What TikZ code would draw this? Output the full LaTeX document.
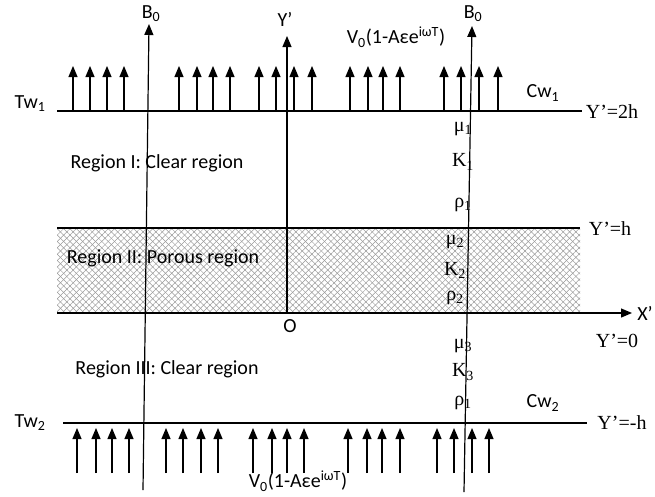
\documentclass[tikz,border=0pt]{standalone}
\usepackage{fontspec}
\setmainfont{Carlito}
\newfontfamily\serifgr{Liberation Serif}
\usetikzlibrary{arrows.meta,patterns.meta}
\begin{document}
\begin{tikzpicture}[x=1pt,y=-1pt,
  lbl/.style={font=\fontsize{20}{20}\selectfont, inner sep=0pt},
  slbl/.style={font=\serifgr\fontsize{20}{20}\selectfont, inner sep=0pt},
  wall/.style={line width=1.2pt},
  axis/.style={line width=1.2pt,-{Triangle[width=9pt,length=11pt]}},
  flow/.style={line width=1.2pt,-{Triangle[width=9pt,length=11pt]}}]
\useasboundingbox (0,0) rectangle (655,496);
% hatched porous region
\fill[pattern={Lines[angle=45,distance=4.5pt,line width=0.5pt]},pattern color=gray!80] (57,228) rectangle (580,313);
\fill[pattern={Lines[angle=-45,distance=4.5pt,line width=0.5pt]},pattern color=gray!80] (57,228) rectangle (580,313);
% coordinates
\coordinate (t1) at (57,111); \coordinate (t2) at (582,111);
\coordinate (h1) at (57,228); \coordinate (h2) at (580,228);
\coordinate (x1) at (57,313); \coordinate (x2) at (632,313);
\coordinate (b1) at (63,423); \coordinate (b2) at (587,423);
\coordinate (lb1) at (143,490); \coordinate (lb2) at (149,24);
\coordinate (rb1) at (464,492); \coordinate (rb2) at (472,26);
\coordinate (ya) at (287,313); \coordinate (yb) at (287,36);
% walls and axes
\draw[wall] (t1) -- (t2);
\draw[wall] (h1) -- (h2);
\draw[axis] (x1) -- (x2);
\draw[wall] (b1) -- (b2);
\draw[axis] (lb1) -- (lb2);
\draw[axis] (rb1) -- (rb2);
\draw[axis] (ya) -- (yb);
% top flow arrows
\foreach \i/\x in {1/73,2/90,3/107,4/124,5/179,6/197,7/213,8/230,9/259,10/276,11/294,12/312,13/350,14/368,15/383,16/400,17/444,18/461,19/479,20/498}{
  \coordinate (ts\i) at (\x,111); \coordinate (te\i) at (\x,66);
  \draw[flow] (ts\i) -- (te\i);
}
% bottom flow arrows
\foreach \i/\x in {1/77,2/96,3/112,4/129,5/166,6/183,7/201,8/218,9/253,10/272,11/287,12/304,13/348,14/367,15/382,16/400,17/437,18/454,19/472,20/489}{
  \coordinate (bs\i) at (\x,473); \coordinate (be\i) at (\x,428);
  \draw[flow] (bs\i) -- (be\i);
}
% labels
\node[lbl] (B0l) at (151,14) {B\textsubscript{0}};
\node[lbl] (B0r) at (473,14) {B\textsubscript{0}};
\node[lbl] (Yp) at (285,19) {Y’};
\node[lbl] (Vtop) at (396,37) {V\textsubscript{0}(1-Aεe\textsuperscript{iωT})};
\node[lbl] (Vbot) at (298,481) {V\textsubscript{0}(1-Aεe\textsuperscript{iωT})};
\node[lbl] (Tw1) at (30,104) {Tw\textsubscript{1}};
\node[lbl] (Tw2) at (30,423) {Tw\textsubscript{2}};
\node[lbl] (Cw1) at (543,93) {Cw\textsubscript{1}};
\node[lbl] (Cw2) at (543,403) {Cw\textsubscript{2}};
\node[lbl] (R1) at (157,163) {Region I: Clear region};
\node[lbl] (R2) at (163,258) {Region II: Porous region};
\node[lbl] (R3) at (167,369) {Region III: Clear region};
\node[lbl] (O) at (290,326) {O};
\node[lbl] (Xp) at (645,313) {X’};
\node[slbl] (Y2h) at (612,112) {Y’=2h};
\node[slbl] (Yh) at (610,229) {Y’=h};
\node[slbl] (Y0) at (617,341) {Y’=0};
\node[slbl] (Ymh) at (622,423) {Y’=-h};
\node[slbl] (mu1) at (463,129) {μ\textsubscript{1}};
\node[slbl] (K1) at (463,162) {K\textsubscript{1}};
\node[slbl] (rho1) at (463,205) {ρ\textsubscript{1}};
\node[slbl] (mu2) at (455,242) {μ\textsubscript{2}};
\node[slbl] (K2) at (455,270) {K\textsubscript{2}};
\node[slbl] (rho2) at (455,298) {ρ\textsubscript{2}};
\node[slbl] (mu3) at (463,346) {μ\textsubscript{3}};
\node[slbl] (K3) at (463,372) {K\textsubscript{3}};
\node[slbl] (rho3) at (463,403) {ρ\textsubscript{1}};
\end{tikzpicture}
\end{document}
